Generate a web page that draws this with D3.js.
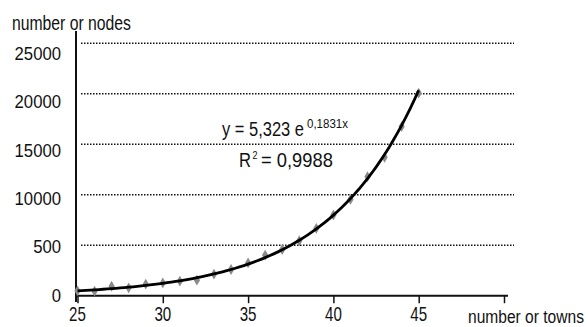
<!DOCTYPE html>
<html>
<head>
<meta charset="utf-8">
<script src="https://cdn.jsdelivr.net/npm/d3@7"></script>
<style>
  body { margin: 0; background: #fff; }
  text { font-family: "Liberation Sans", Arial, sans-serif; fill: #111; }
</style>
</head>
<body>
<div id="chart"></div>
<script>
// towns vs nodes
const towns = [25, 26, 27, 28, 29, 30, 31, 32, 33, 34, 35, 36, 37, 38, 39, 40, 41, 42, 43, 44, 45];
const nodes = [480, 450, 940, 780, 1140, 1270, 1440, 1540, 2130, 2600, 3250, 4020, 4580, 5440, 6670, 7990, 9540, 11790, 13710, 16750, 20060];

const yTicks = [0, 5000, 10000, 15000, 20000, 25000];
const yTickLabels = ["0", "500", "10000", "15000", "20000", "25000"];
const xTicks = [25, 30, 35, 40, 45, 50];
const xTickLabels = ["25", "30", "35", "40", "45", ""];

const svgWidth = 588, svgHeight = 327;

const svg = d3.select("#chart")
  .append("svg")
  .attr("width", svgWidth)
  .attr("height", svgHeight);

const x = d3.scaleLinear().domain([25, 50]).range([77.5, 504]);
const y = d3.scaleLinear().domain([0, 25000]).range([295.7, 43.3]);
// labels on the left sit on their own spacing in the original
const yLabelPos = d3.scaleLinear().domain([0, 25000]).range([301.5, 60]);

// the original font is condensed: squeeze text horizontally to a target width
function squeezed(parent, str, px, py, width, size, anchor) {
  const t = parent.append("text")
    .attr("text-anchor", anchor || "start")
    .style("font-size", size + "px")
    .text(str);
  const natural = t.node().getComputedTextLength() || width;
  t.attr("transform", `translate(${px},${py}) scale(${width / natural},1)`);
  return t;
}

// dotted gridlines
svg.append("g")
  .selectAll("line")
  .data(yTicks.slice(1))
  .enter()
  .append("line")
  .attr("x1", 81)
  .attr("x2", 514)
  .attr("y1", d => y(d))
  .attr("y2", d => y(d))
  .attr("stroke", "#111")
  .attr("stroke-width", 1.5)
  .attr("stroke-dasharray", "1.5,1.5");

// y labels
const yLabels = svg.append("g");
yTicks.forEach((v, i) => {
  squeezed(yLabels, yTickLabels[i], 61, yLabelPos(v), yTickLabels[i].length * 9.3, 18.5, "end");
});

// x axis
const bottomAxis = d3.axisBottom(x)
  .tickValues(xTicks)
  .tickSize(7.5)
  .tickSizeOuter(0)
  .tickFormat("");

const xAxis = svg.append("g")
  .attr("transform", `translate(0, ${y(0)})`)
  .call(bottomAxis);
xAxis.select(".domain").attr("stroke", "#111").attr("stroke-width", 2)
  .attr("d", `M${x(25) - 1.5},0H${x(50) + 4}`);
xAxis.selectAll(".tick line").attr("stroke", "#111").attr("stroke-width", 1.5);

const xLabels = svg.append("g");
xTicks.forEach((v, i) => {
  if (xTickLabels[i]) squeezed(xLabels, xTickLabels[i], x(v), y(0) + 25, xTickLabels[i].length * 8.4, 21, "middle");
});

// y axis line
svg.append("line")
  .attr("x1", x(25) - 1.5)
  .attr("x2", x(25) - 1.5)
  .attr("y1", 31)
  .attr("y2", 302)
  .attr("stroke", "#111")
  .attr("stroke-width", 2);

// exponential trendline fitted on the points
const lx = d3.mean(towns);
const lyArr = nodes.map(v => Math.log(v));
const ly = d3.mean(lyArr);
const b = d3.sum(towns, (t, i) => (t - lx) * (lyArr[i] - ly)) / d3.sum(towns, t => (t - lx) * (t - lx));
const a = Math.exp(ly - b * lx);
const trendX = d3.range(25, 45.001, 0.25);

const line = d3.line()
  .x(d => x(d))
  .y(d => y(a * Math.exp(b * d)));

// markers
svg.append("g")
  .selectAll("path")
  .data(towns)
  .enter()
  .append("path")
  .attr("transform", (d, i) => `translate(${x(d)}, ${y(nodes[i])})`)
  .attr("d", d3.symbol().type(d3.symbolDiamond).size(34))
  .attr("fill", "#8a8a8a");

svg.append("path")
  .datum(trendX)
  .attr("d", line)
  .attr("fill", "none")
  .attr("stroke", "#000")
  .attr("stroke-width", 2.8);

// equation
const eq = svg.append("g");
squeezed(eq, "y = 5,323 e", 222, 135.5, 82, 20);
squeezed(eq, "0,1831x", 307, 127.5, 41, 12);
squeezed(eq, "R", 239, 166.5, 12, 20);
squeezed(eq, "2", 252.5, 158.5, 5, 11);
squeezed(eq, "= 0,9988", 261, 166.5, 72, 20);

// axis titles
squeezed(svg, "number or nodes", 12, 29.5, 119, 19.5);
squeezed(svg, "number or towns", 468, 323, 116, 19);
</script>
</body>
</html>
